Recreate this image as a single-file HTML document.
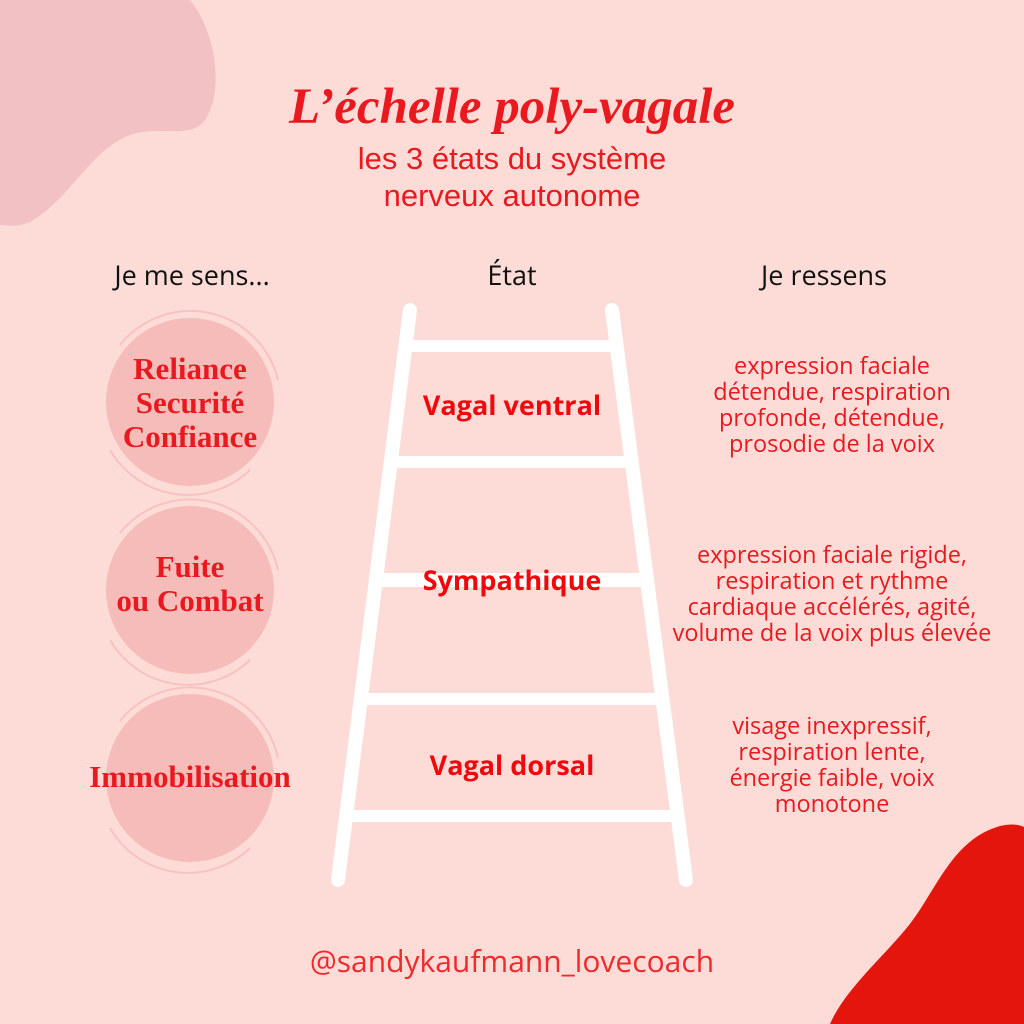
<!DOCTYPE html>
<html><head><meta charset="utf-8"><style>
html,body{margin:0;padding:0}
body{width:1024px;height:1024px;background:#fddcd8;position:relative;overflow:hidden;font-family:"Open Sans","DejaVu Sans","Liberation Sans",sans-serif}
.t{position:absolute;text-align:center;white-space:nowrap}
</style></head><body>
<svg width="1024" height="1024" style="position:absolute;left:0;top:0">
<path d="M0,0 L190,0 C215,30 225,90 205,120 C190,140 160,125 130,135 C90,150 70,200 30,222 C15,228 5,225 0,225 Z" fill="#f2c1c4"/>
<path d="M830,1024 C845,990 880,960 905,930 C935,895 950,840 1000,826 C1012,823 1020,825 1024,827 L1024,1024 Z" fill="#e3150d"/>
<g fill="#f6bcba">
<circle cx="190" cy="402" r="84"/>
<circle cx="190" cy="590" r="84"/>
<circle cx="190" cy="778" r="84"/>
</g>
<g fill="none" stroke="#f6bcba" stroke-width="2" opacity=".8">
<path d="M120,345 A90,90 0 0 1 278,380"/>
<path d="M110,450 A90,90 0 0 0 250,470"/>
<path d="M120,533 A90,90 0 0 1 278,570"/>
<path d="M110,640 A90,90 0 0 0 250,660"/>
<path d="M120,721 A90,90 0 0 1 278,758"/>
<path d="M110,828 A90,90 0 0 0 250,848"/>
</g>
<g stroke="#fff" stroke-width="14" stroke-linecap="round">
<line x1="410" y1="310" x2="338" y2="880"/>
<line x1="612" y1="310" x2="686" y2="880"/>
</g>
<g fill="#fff">
<rect x="405" y="340" width="208" height="12"/>
<rect x="390" y="456" width="238" height="12"/>
<rect x="380" y="573" width="262" height="14"/>
<rect x="365" y="693" width="292" height="12"/>
<rect x="350" y="810" width="322" height="12"/>
</g>
</svg>
<div class="t" style="left:0;width:1024px;top:78px;font-family:'Liberation Serif',serif;font-style:italic;font-weight:bold;font-size:51px;color:#e8191f">L’échelle poly-vagale</div>
<div class="t" style="left:212px;top:140px;width:600px;font-size:31px;line-height:37px;color:#e8191f;font-family:'Liberation Sans',sans-serif">les 3 états du système<br>nerveux autonome</div>
<div class="t" style="left:92px;top:256px;width:200px;font-size:27px;color:#111">Je me sens...</div>
<div class="t" style="left:412px;top:256px;width:200px;font-size:27px;color:#111">État</div>
<div class="t" style="left:724px;top:256px;width:200px;font-size:27px;color:#111">Je ressens</div>
<div class="t" style="left:60px;width:260px;top:352px;font-family:'Liberation Serif',serif;font-weight:bold;font-size:31px;line-height:34px;color:#e8191f">Reliance<br>Securité<br>Confiance</div>
<div class="t" style="left:60px;width:260px;top:550px;font-family:'Liberation Serif',serif;font-weight:bold;font-size:31px;line-height:34px;color:#e8191f">Fuite<br>ou Combat</div>
<div class="t" style="left:60px;width:260px;top:760px;font-family:'Liberation Serif',serif;font-weight:bold;font-size:31px;line-height:34px;color:#e8191f">Immobilisation</div>
<div class="t" style="left:362px;width:300px;top:386px;font-weight:bold;font-size:27px;color:#f0080c">Vagal ventral</div>
<div class="t" style="left:362px;width:300px;top:561px;font-weight:bold;font-size:27px;color:#f0080c">Sympathique</div>
<div class="t" style="left:362px;width:300px;top:746px;font-weight:bold;font-size:27px;color:#f0080c">Vagal dorsal</div>
<div class="t" style="left:652px;width:360px;top:352px;font-size:23.5px;line-height:26px;color:#e8191f">expression faciale<br>détendue, respiration<br>profonde, détendue,<br>prosodie de la voix</div>
<div class="t" style="left:652px;width:360px;top:541px;font-size:23.5px;line-height:26px;color:#e8191f">expression faciale rigide,<br>respiration et rythme<br>cardiaque accélérés, agité,<br>volume de la voix plus élevée</div>
<div class="t" style="left:652px;width:360px;top:712px;font-size:23.5px;line-height:26px;color:#e8191f">visage inexpressif,<br>respiration lente,<br>énergie faible, voix<br>monotone</div>
<div class="t" style="left:162px;width:700px;top:940px;font-size:30px;color:#ef2a2a">@sandykaufmann_lovecoach</div>
</body></html>
